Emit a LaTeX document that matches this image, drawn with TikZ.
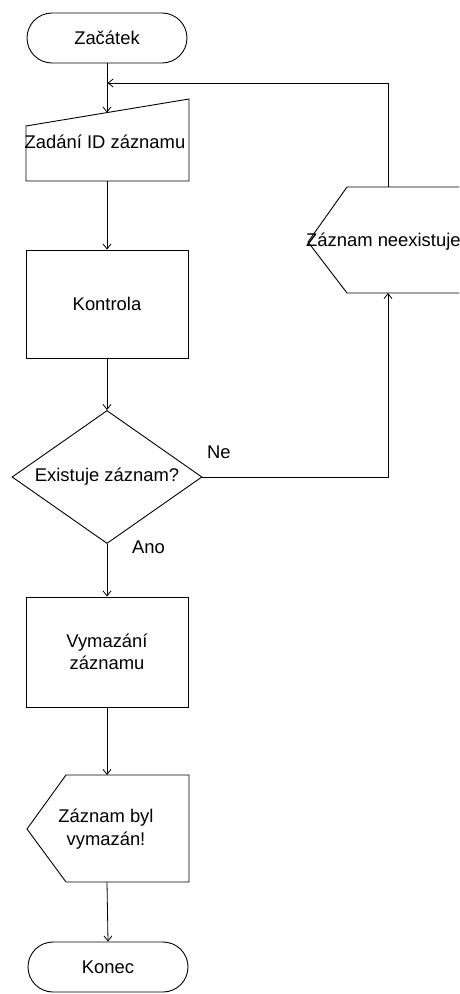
\documentclass[tikz,border=0pt]{standalone}
\usepackage{fontspec}
\setmainfont{Liberation Sans}
\usetikzlibrary{arrows.meta,shapes.geometric}
\begin{document}
\begin{tikzpicture}[x=1pt,y=-1pt,
  shapeline/.style={draw=black,line width=0.9pt},
  conn/.style={draw=black,line width=0.8pt},
  arr/.style={conn,-{Straight Barb[length=5pt,width=8pt]}},
  lbl/.style={font=\fontsize{18.4}{22.5}\selectfont,text=black,align=center,inner sep=0pt},
  term/.style={shapeline,rounded corners=25pt,minimum width=160pt,minimum height=50pt,lbl}]
\useasboundingbox (0,0) rectangle (459,994);
\fill[white] (0,0) rectangle (459,994);

% start
\node[term] (start) at (107,38) {Začátek};

% manual input
\draw[shapeline] (26,126) -- (189,99) -- (189,181) -- (26,181) -- cycle;
\node[lbl] (zad) at (105,142) {Zadání ID záznamu};
\coordinate (zadtop) at (107,112.6);
\coordinate (zadbot) at (107,181);

% process
\node[shapeline,lbl,minimum width=162pt,minimum height=108pt] (kon) at (107,304) {Kontrola};

% decision
\node[diamond,shapeline,lbl,aspect=1.43,minimum width=190pt,minimum height=133pt] (dec) at (107,477) {Existuje záznam?};

% process 2
\node[shapeline,lbl,minimum width=162pt,minimum height=110pt] (vym) at (107,652) {Vymazání\\záznamu};

% display 2
\draw[shapeline] (66,775) -- (189,775) -- (189,882) -- (66,882) -- (27,829) -- cycle;
\node[lbl] (byl) at (106,829) {Záznam byl\\vymazán!};
\coordinate (byltop) at (107,775);
\coordinate (bylbot) at (107,882);

% end
\node[term] (konec) at (108,967) {Konec};

% display 1 (cut at right edge)
\draw[shapeline] (459,187) -- (347,187) -- (308,242) -- (347,293) -- (459,293);
\node[lbl,anchor=west] (nee) at (306,242) {Záznam neexistuje};
\coordinate (neetop) at (388,187);
\coordinate (neebot) at (388,293);
\coordinate (ret) at (107.5,83);

% labels
\node[lbl,anchor=west] (ne) at (207,452) {Ne};
\node[lbl,anchor=west] (ano) at (132,547) {Ano};

% connectors
\draw[arr] (start.south) -- (zadtop);
\draw[arr] (zadbot) -- (kon.north);
\draw[arr] (kon.south) -- (dec.north);
\draw[arr] (dec.east) -| (neebot);
\draw[arr] (neetop) |- (ret);
\draw[arr] (dec.south) -- (vym.north);
\draw[arr] (vym.south) -- (byltop);
\draw[arr] (bylbot) -- (konec.north);
\end{tikzpicture}
\end{document}
